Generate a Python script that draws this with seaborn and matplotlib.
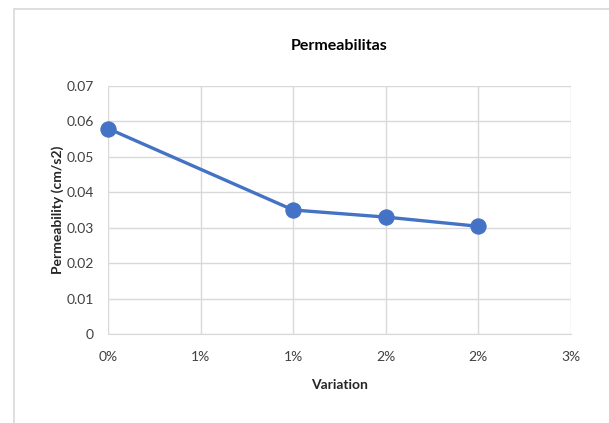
import pandas as pd
import seaborn as sns
import matplotlib.pyplot as plt
from matplotlib.patches import Rectangle

# Data
variation = [0.0, 0.01, 0.015, 0.02]
permeability = [0.058, 0.035, 0.033, 0.0304]
x_ticks = [0.0, 0.005, 0.01, 0.015, 0.02, 0.025]
x_tick_labels = ["0%", "1%", "1%", "2%", "2%", "3%"]
y_ticks = [0, 0.01, 0.02, 0.03, 0.04, 0.05, 0.06, 0.07]
y_tick_labels = ["0", "0.01", "0.02", "0.03", "0.04", "0.05", "0.06", "0.07"]

df = pd.DataFrame({"Variation": variation, "Permeability": permeability})

sns.set_style("white")
plt.rcParams["font.family"] = ["Lato", "DejaVu Sans"]

fig = plt.figure(figsize=(6.09, 4.23), dpi=100)
ax = fig.add_axes([108 / 609, 89 / 423, 463 / 609, 248 / 423])

# chart border like the Excel chart area
fig.patches.append(Rectangle((14 / 609, -0.1), 1.2, 1.1 - 9 / 423,
                             transform=fig.transFigure, fill=False,
                             edgecolor="#D9D9D9", linewidth=1.2))

sns.lineplot(data=df, x="Variation", y="Permeability", ax=ax,
             color="#4472C4", linewidth=2.4, marker="o", markersize=11,
             markeredgecolor="#4472C4", clip_on=False, zorder=5)

ax.set_xlim(0, 0.025)
ax.set_ylim(0, 0.07)
ax.set_xticks(x_ticks)
ax.set_xticklabels(x_tick_labels)
ax.set_yticks(y_ticks)
ax.set_yticklabels(y_tick_labels)
ax.tick_params(axis="x", length=0, labelsize=10, colors="#404040", pad=12)
ax.tick_params(axis="y", length=0, labelsize=10, colors="#404040", pad=10)
ax.grid(True, color="#D9D9D9", linewidth=1)
ax.set_axisbelow(True)
for side in ["top", "right", "left", "bottom"]:
    ax.spines[side].set_visible(False)
ax.spines["bottom"].set_visible(True)
ax.spines["bottom"].set_color("#D9D9D9")

ax.set_title("Permeabilitas", fontsize=11.5, fontweight="bold", color="#000000", pad=26)
ax.set_xlabel("Variation", fontsize=10, fontweight="bold", labelpad=12)
ax.set_ylabel("Permeability (cm/s2)", fontsize=10, fontweight="bold", labelpad=2)

fig.savefig("out.png", dpi=100)
